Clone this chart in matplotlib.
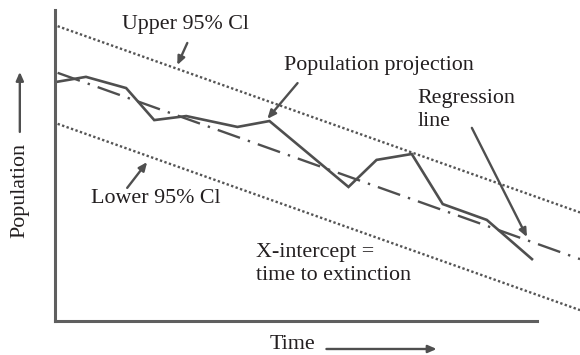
import matplotlib
matplotlib.use("Agg")
import matplotlib.pyplot as plt
import numpy as np

# ---- data ----
time_points = [0.0, 1.18, 2.71, 3.78, 5.0, 6.95, 8.17, 11.18, 12.25, 13.59, 14.77, 16.45, 18.17]
population = [76.8, 78.5, 74.9, 64.6, 65.9, 62.4, 64.3, 43.1, 51.8, 53.7, 37.6, 32.5, 19.9]
reg_intercept = 80.1      # regression value at time 0
reg_slope = -3.01         # change per time unit
upper_offset = 15.0       # upper 95% CI above regression
lower_offset = -16.4      # lower 95% CI below regression
line_range = [0.1, 20.0]  # time span of regression / CI lines
time_axis_end = 18.36

plt.rcParams['font.family'] = ['Liberation Serif', 'DejaVu Serif']

fig = plt.figure(figsize=(5.8, 3.55), dpi=100)
ax = fig.add_axes([55 / 580, 34 / 355, 1 - 55 / 580, 311 / 355])
ax.set_xlim(0, 20)
ax.set_ylim(0, 100)

line_col = '#4f4f4f'
dot_col = '#555555'
txt_col = '#231f20'

t = np.array(line_range)
reg = reg_intercept + reg_slope * t
ax.plot(t, reg + upper_offset, color=dot_col, lw=1.7, ls=(0, (1, 1.0)))
ax.plot(t, reg + lower_offset, color=dot_col, lw=1.7, ls=(0, (1, 1.0)))
ax.plot(t, reg, color=line_col, lw=1.7, ls=(0, (10, 3.5, 1, 3.5)))
ax.plot(time_points, population, color=line_col, lw=1.9, solid_joinstyle='miter')

for s in ['top', 'right']:
    ax.spines[s].set_visible(False)
for s in ['left', 'bottom']:
    ax.spines[s].set_color('#5f5f5f')
    ax.spines[s].set_linewidth(2.2)
ax.spines['bottom'].set_bounds(0, time_axis_end)
ax.set_xticks([])
ax.set_yticks([])

fs = 15.8
ls_text = 1.28
arrow_kw = dict(arrowstyle='-|>,head_length=0.5,head_width=0.22', color=line_col, lw=1.7,
                shrinkA=0, shrinkB=0)

ax.text(2.56, 95.2, 'Upper 95% Cl', fontsize=fs, color=txt_col, va='center', ha='left')
ax.annotate('', xy=(4.66, 82.3), xytext=(5.04, 89.4), arrowprops=arrow_kw)

ax.text(8.74, 82.3, 'Population projection', fontsize=fs, color=txt_col, va='center', ha='left')
ax.annotate('', xy=(8.09, 65.0), xytext=(9.24, 76.5), arrowprops=arrow_kw)

ax.text(13.82, 67.7, 'Regression\nline', fontsize=fs, color=txt_col, va='center', ha='left',
        linespacing=ls_text)
ax.annotate('', xy=(17.98, 27.0), xytext=(15.88, 62.1), arrowprops=arrow_kw)

ax.text(1.37, 39.5, 'Lower 95% Cl', fontsize=fs, color=txt_col, va='center', ha='left')
ax.annotate('', xy=(3.51, 51.1), xytext=(2.75, 42.8), arrowprops=arrow_kw)

ax.text(7.67, 18.2, 'X-intercept =\ntime to extinction', fontsize=fs, color=txt_col,
        va='center', ha='left', linespacing=ls_text)

# axis labels with arrows
ax.text(8.17, -7.7, 'Time', fontsize=fs, color=txt_col, va='center', ha='left', clip_on=False)
ax.annotate('', xy=(14.54, -9.0), xytext=(10.34, -9.0), arrowprops=arrow_kw,
            annotation_clip=False)
ax.text(-1.34, 42.1, 'Population', fontsize=fs, color=txt_col, va='center', ha='center',
        rotation=90, clip_on=False)
ax.annotate('', xy=(-1.34, 80.1), xytext=(-1.34, 60.8), arrowprops=arrow_kw,
            annotation_clip=False)

fig.savefig('out.png', dpi=100)
